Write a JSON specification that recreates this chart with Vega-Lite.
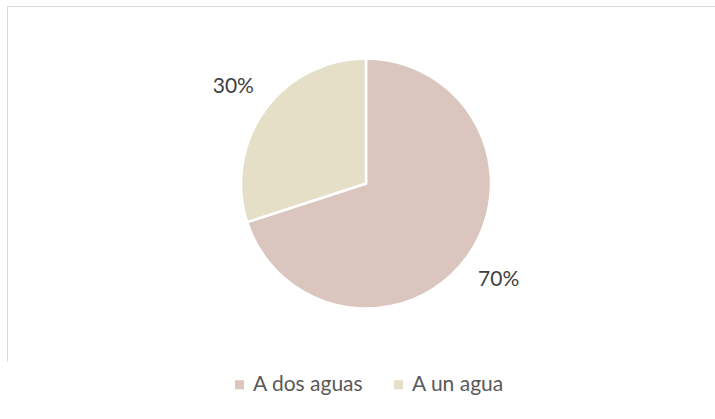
{
  "$schema": "https://vega.github.io/schema/vega-lite/v6.json",
  "width": 718,
  "height": 355,
  "padding": {"left": 7, "top": 6, "right": 0, "bottom": 0},
  "autosize": {"type": "pad"},
  "background": "white",
  "config": {
    "font": "Lato"
  },
  "view": {"stroke": "#d9d9d9", "strokeWidth": 1, "strokeDash": [718, 1073, 355]},
  "data": {
    "values": [
      {"tipo": "A dos aguas", "valor": 70, "label": "70%", "orden": 1},
      {"tipo": "A un agua", "valor": 30, "label": "30%", "orden": 2}
    ]
  },
  "encoding": {
    "theta": {"field": "valor", "type": "quantitative", "stack": true},
    "order": {"field": "orden", "type": "quantitative"}
  },
  "layer": [
    {
      "mark": {"type": "arc", "outerRadius": 125, "stroke": "white", "strokeWidth": 2.5},
      "encoding": {
        "color": {
          "field": "tipo",
          "type": "nominal",
          "scale": {"domain": ["A dos aguas", "A un agua"], "range": ["#dac6bf", "#e5dfc7"]},
          "legend": {
            "orient": "none",
            "legendX": 222,
            "legendY": 368,
            "direction": "horizontal",
            "title": null,
            "symbolType": "square",
            "symbolSize": 81,
            "symbolStrokeWidth": 0,
            "labelFontSize": 21,
            "labelColor": "#595959",
            "labelOffset": 3,
            "columnPadding": 24
          }
        }
      }
    },
    {
      "mark": {"type": "text", "radius": 164, "fontSize": 21, "fill": "#404040"},
      "encoding": {
        "text": {"field": "label", "type": "nominal"},
        "detail": {"field": "tipo", "type": "nominal"}
      }
    }
  ]
}
